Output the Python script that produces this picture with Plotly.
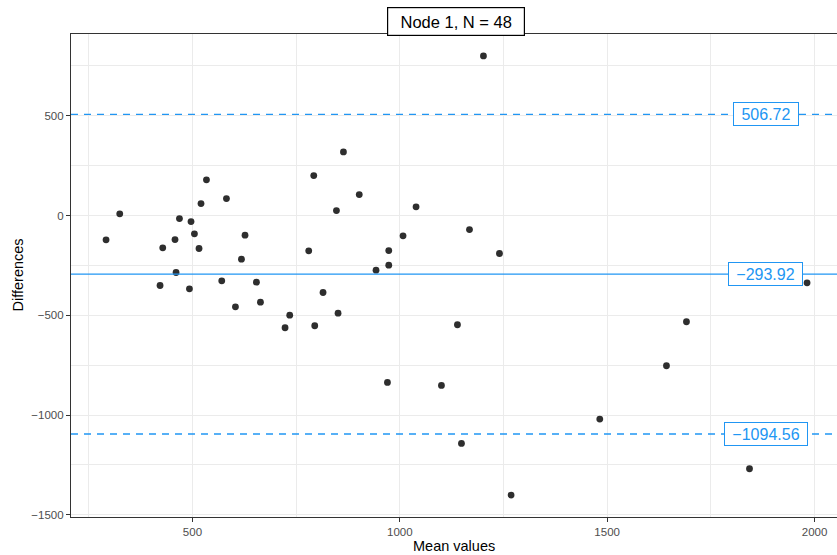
import plotly.graph_objects as go

# Data
mean_values = [291.7, 324.7, 428.4, 421.9, 460.5, 458.0, 468.7, 492.8, 496.6, 504.8,
               515.9, 520.7, 533.8, 570.7, 582.0, 603.7, 618.2, 626.8, 654.3, 664.0,
               723.3, 734.6, 780.4, 792.5, 794.9, 814.9, 847.2, 851.1, 864.1, 902.2,
               942.7, 970.2, 973.4, 973.4, 1007.8, 1039.2, 1100.4, 1139.0, 1148.7, 1168.0,
               1201.7, 1240.3, 1268.3, 1482.2, 1643.0, 1691.2, 1843.2, 1982.0]
differences = [-121.7, 8.5, -161.7, -350.5, -285.4, -120.2, -15.0, -367.1, -30.0, -91.6,
               -165.2, 60.1, 178.8, -327.0, 85.1, -457.2, -218.8, -98.6, -334.0, -434.2,
               -562.3, -499.2, -176.8, 200.3, -552.3, -385.6, 25.0, -489.2, 319.0, 105.2,
               -273.9, -836.3, -175.3, -248.9, -101.7, 43.6, -851.3, -547.3, -1141.7, -70.1,
               799.7, -190.3, -1400.6, -1020.0, -752.6, -532.3, -1268.9, -337.0]

bias = -293.92
upper_loa = 506.72
lower_loa = -1094.56
title_text = "Node 1, N = 48"
x_ticks = [500, 1000, 1500, 2000]
y_ticks = [500, 0, -500, -1000, -1500]
y_tick_labels = ["500", "0", "\u2212500", "\u22121000", "\u22121500"]
x_minor = [250, 750, 1250, 1750]
y_minor = [750, 250, -250, -750, -1250]

BLUE = "#2196F3"
FONT = "Liberation Sans, Arial, sans-serif"

fig = go.Figure()
fig.add_trace(go.Scatter(
    x=mean_values, y=differences, mode="markers",
    marker=dict(color="#2E2E2E", size=6.8, line=dict(width=0)),
    showlegend=False, hoverinfo="x+y"))

x_min = min(mean_values)
x_max = max(mean_values)
y_lo = min(differences)
y_hi = max(differences)
xr = x_max - x_min
yr = y_hi - y_lo
x_range = [x_min - 0.05 * xr, x_min - 0.05 * xr + 1847]
y_range = [y_lo - 0.05 * yr, y_hi + 0.05 * yr]

lines = [(upper_loa, "dash", 1.4), (bias, "solid", 1.2), (lower_loa, "dash", 1.4)]
for val, dash, w in lines:
    fig.add_shape(type="line", xref="paper", x0=0, x1=1, yref="y", y0=val, y1=val,
                  line=dict(color=BLUE, width=w, dash="7px,6px" if dash == "dash" else "solid"),
                  layer="above")

label_x = 0.95 * x_max
for val in [upper_loa, bias, lower_loa]:
    txt = f"{val:.2f}".replace("-", "\u2212")
    box_w = 9.0 * len(txt) + 4
    fig.add_annotation(x=label_x, y=val, xref="x", yref="y", text=txt, showarrow=False,
                       font=dict(family=FONT, size=16, color=BLUE),
                       width=box_w, height=16, align="center", valign="middle",
                       bgcolor="white", bordercolor=BLUE, borderwidth=1, borderpad=3)

fig.add_annotation(x=0.5, y=1, xref="paper", yref="paper", yshift=13, yanchor="middle",
                   xshift=2,
                   text=title_text, showarrow=False,
                   font=dict(family=FONT, size=16.5, color="black"),
                   width=128, height=19, align="center", valign="middle",
                   bgcolor="white", bordercolor="black", borderwidth=1.2, borderpad=4)

fig.add_annotation(x=0.5, y=0, xref="paper", yref="paper", yshift=-29, yanchor="middle",
                   text="Mean values", showarrow=False,
                   font=dict(family=FONT, size=14.5, color="black"))
fig.add_annotation(x=0, y=0.5, xref="paper", yref="paper", xshift=-54, xanchor="center",
                   text="Differences", showarrow=False, textangle=-90,
                   font=dict(family=FONT, size=14.5, color="black"))

fig.update_layout(
    width=837, height=555,
    margin=dict(l=71, r=0, t=34, b=38),
    paper_bgcolor="white", plot_bgcolor="white",
    font=dict(family=FONT),
    xaxis=dict(range=x_range, tickvals=x_ticks, ticktext=[str(v) for v in x_ticks],
               showgrid=True, gridcolor="#EBEBEB", gridwidth=1.1,
               minor=dict(tickvals=x_minor, showgrid=True, gridcolor="#EBEBEB", gridwidth=0.6),
               showline=True, linecolor="#333333", linewidth=1.2, mirror=True,
               ticks="outside", ticklen=4, tickcolor="#333333", tickwidth=1,
               tickfont=dict(size=11.5, color="#4D4D4D", family=FONT),
               zeroline=False, fixedrange=True),
    yaxis=dict(range=y_range, tickvals=y_ticks, ticktext=y_tick_labels,
               showgrid=True, gridcolor="#EBEBEB", gridwidth=1.1,
               minor=dict(tickvals=y_minor, showgrid=True, gridcolor="#EBEBEB", gridwidth=0.6),
               showline=True, linecolor="#333333", linewidth=1.2, mirror=False,
               ticks="outside", ticklen=4, tickcolor="#333333", tickwidth=1,
               tickfont=dict(size=11.5, color="#4D4D4D", family=FONT),
               zeroline=False, fixedrange=True),
)

fig.write_html("out.html", config={"displayModeBar": False},
               post_script="document.body.style.margin='0';document.body.style.padding='0';")
